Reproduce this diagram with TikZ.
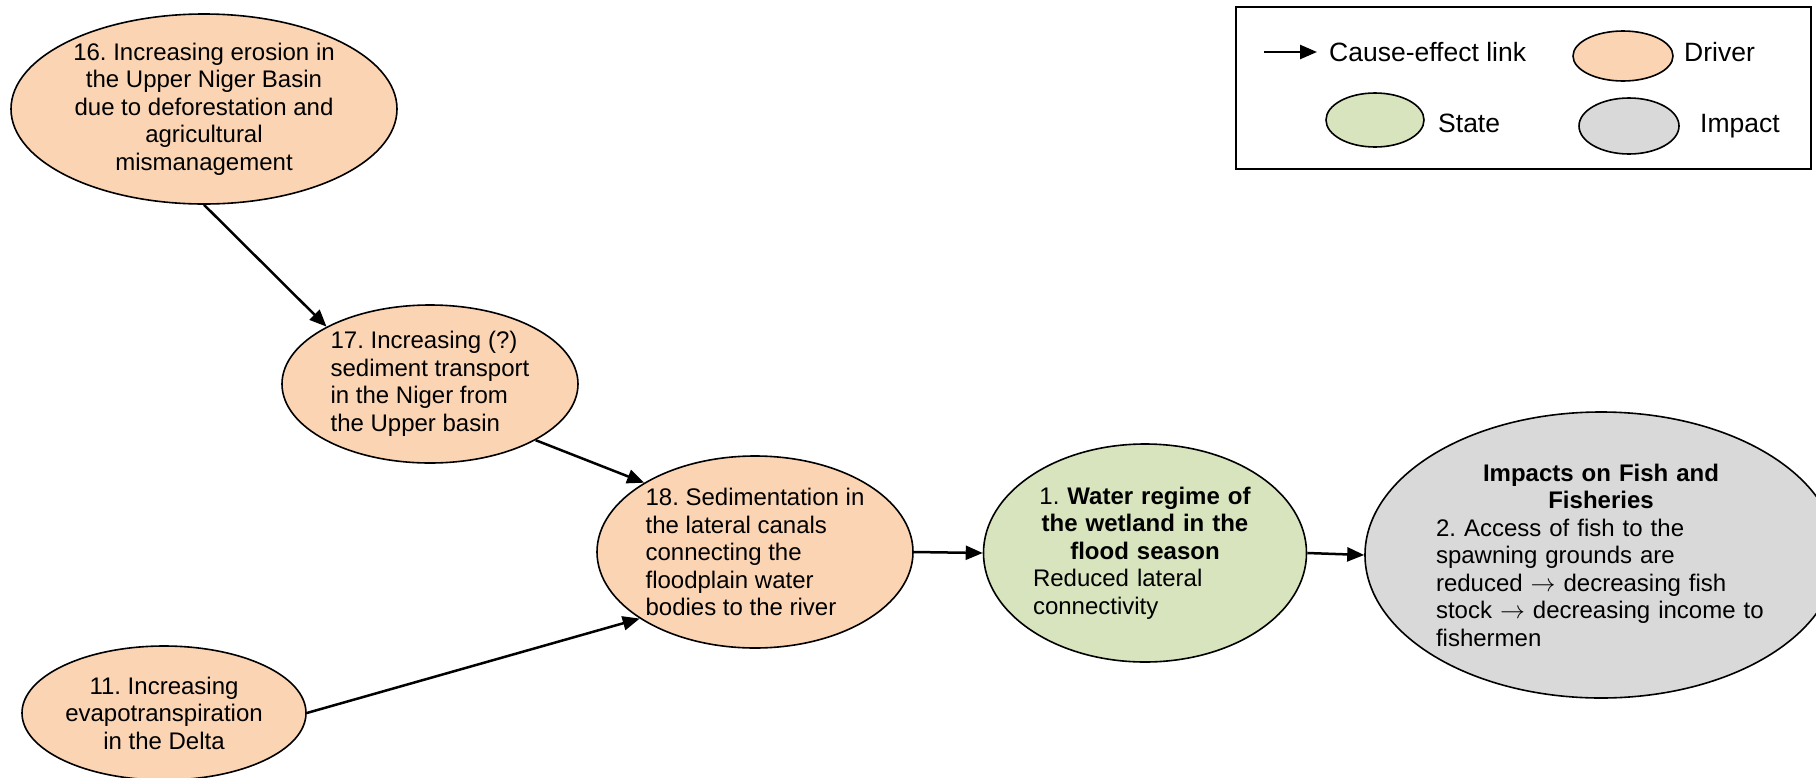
\documentclass[tikz,border=0pt]{standalone}
\usepackage{fontspec}
\setmainfont{Liberation Sans}
\frenchspacing
\usetikzlibrary{arrows.meta,shapes.geometric}
\definecolor{drivercol}{HTML}{FBD4B4}
\definecolor{statecol}{HTML}{D7E4BD}
\definecolor{impactcol}{HTML}{D9D9D9}
\tikzset{
  oval/.style={ellipse, draw=black, line width=1.6pt, inner sep=0pt},
  driver/.style={oval, fill=drivercol},
  statebox/.style={oval, fill=statecol},
  impactbox/.style={oval, fill=impactcol},
  txt/.style={inner sep=0pt, font=\fontsize{24}{27.5}\selectfont},
  legtxt/.style={inner sep=0pt, font=\fontsize{26.5}{30}\selectfont},
  link/.style={line width=2.5pt, -{Triangle[length=17pt,width=14pt]}},
}
\begin{document}
\begin{tikzpicture}[x=1pt,y=-1pt]
\useasboundingbox (0,0) rectangle (1816,777);
% ellipses
\node[driver, minimum width=386pt, minimum height=190pt] (n16) at (204,109) {};
\node[driver, minimum width=296pt, minimum height=158pt] (n17) at (430,384) {};
\node[driver, minimum width=316pt, minimum height=192pt] (n18) at (755,552) {};
\node[driver, minimum width=284pt, minimum height=134pt] (n11) at (164,713) {};
\node[statebox, minimum width=323pt, minimum height=218pt] (n1) at (1145,553) {};
\node[impactbox, minimum width=472pt, minimum height=286pt] (n2) at (1601,555) {};
% texts
\node[txt, align=center] (t16) at (n16) {\frenchspacing 16. Increasing erosion in\\the Upper Niger Basin\\due to deforestation and\\agricultural\\mismanagement};
\node[txt, align=left] (t17) at (n17) {\frenchspacing 17. Increasing (?)\\sediment transport\\in the Niger from\\the Upper basin};
\node[txt, align=left] (t18) at (n18) {\frenchspacing 18. Sedimentation in\\the lateral canals\\connecting the\\floodplain water\\bodies to the river};
\node[txt, align=center] (t11) at (n11) {\frenchspacing 11. Increasing\\evapotranspiration\\in the Delta};
\node[txt, text width=224pt, align=left] (t1) at (n1) {\frenchspacing{\centering 1. \textbf{Water regime of}\\\textbf{the wetland in the}\\\textbf{flood season}\par}Reduced lateral\\connectivity};
\node[txt, text width=330pt, align=left] (t2) at (n2) {\frenchspacing{\centering\textbf{Impacts on Fish and}\\\textbf{Fisheries}\par}2. Access of fish to the\\spawning grounds are\\reduced $\rightarrow$ decreasing fish\\stock $\rightarrow$ decreasing income to\\fishermen};
% connectors
\draw[link] (n16.south) -- (n17.151);
\draw[link] (n17.-28) -- (n18.148);
\draw[link] (n11.east) -- (n18.210);
\draw[link] (n18.east) -- (n1.west);
\draw[link] (n1.east) -- (n2.west);
% legend
\node[draw=black, line width=2pt, minimum width=575pt, minimum height=162pt, inner sep=0pt] (legend) at (1523.5,88) {};
\coordinate (la) at (1264,52);
\coordinate (lb) at (1317,52);
\draw[link] (la) -- (lb);
\node[legtxt, anchor=base west] (lcause) at (1329,61.5) {Cause-effect link};
\node[driver, minimum width=100pt, minimum height=50pt] (ldriver) at (1623,56) {};
\node[legtxt, anchor=base west] (ldrivertxt) at (1684,61.5) {Driver};
\node[statebox, minimum width=98pt, minimum height=54pt] (lstate) at (1375,120) {};
\node[legtxt, anchor=base west] (lstatetxt) at (1438,132.5) {State};
\node[impactbox, minimum width=100pt, minimum height=56pt] (limpact) at (1629,126) {};
\node[legtxt, anchor=base west] (limpacttxt) at (1700,132.5) {Impact};
\end{tikzpicture}
\end{document}
